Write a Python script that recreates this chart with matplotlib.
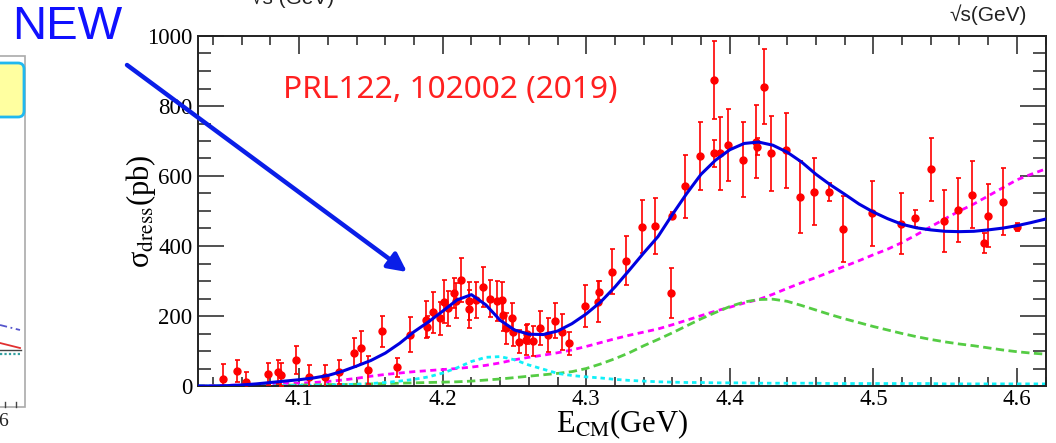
import numpy as np
import matplotlib.pyplot as plt
from matplotlib.patches import FancyBboxPatch, Rectangle
from matplotlib.ticker import MultipleLocator

plt.rcParams['mathtext.fontset'] = 'stix'
plt.rcParams['font.family'] = ['Liberation Serif', 'DejaVu Serif']

# measured cross section points: E_CM (GeV), sigma (pb), stat. error (pb)
e_cm = [4.047, 4.057, 4.063, 4.078, 4.085, 4.087, 4.098, 4.107, 4.118, 4.128,
        4.138, 4.143, 4.148, 4.158, 4.168, 4.177, 4.188, 4.189, 4.193, 4.198,
        4.201, 4.204, 4.208, 4.209, 4.213, 4.218, 4.218, 4.223, 4.228, 4.233,
        4.238, 4.241, 4.242, 4.244, 4.248, 4.249, 4.253, 4.258, 4.259, 4.263,
        4.268, 4.273, 4.278, 4.283, 4.288, 4.299, 4.308, 4.309, 4.318, 4.328,
        4.339, 4.348, 4.359, 4.360, 4.369, 4.379, 4.389, 4.389, 4.393, 4.399,
        4.409, 4.418, 4.419, 4.424, 4.429, 4.439, 4.449, 4.459, 4.469, 4.479,
        4.499, 4.519, 4.529, 4.540, 4.549, 4.559, 4.569, 4.577, 4.580, 4.590,
        4.600]
sigma = [19, 43, 11, 34, 40, 32, 74, 27, 27, 40,
         95, 110, 46, 156, 53, 147, 189, 170, 211, 193,
         241, 222, 267, 243, 303, 243, 220, 246, 284, 250,
         244, 247, 203, 165, 193, 155, 127, 131, 149, 129,
         165, 146, 187, 155, 122, 229, 241, 270, 327, 358,
         455, 457, 265, 486, 570, 658, 874, 665, 665, 689,
         646, 698, 684, 855, 665, 674, 541, 555, 555, 448,
         493, 463, 479, 619, 472, 503, 546, 408, 487, 527,
         455]
sigma_err = [44, 31, 28, 32, 35, 33, 40, 32, 33, 35,
             42, 48, 39, 45, 27, 51, 53, 30, 59, 46,
             61, 50, 43, 50, 62, 55, 55, 52, 57, 54,
             57, 51, 45, 45, 45, 40, 33, 43, 28, 43,
             48, 48, 50, 51, 33, 59, 59, 30, 64, 70,
             75, 79, 71, 10, 90, 97, 112, 38, 104, 103,
             107, 104, 25, 107, 107, 107, 103, 95, 26, 94,
             92, 87, 25, 90, 89, 92, 96, 29, 91, 95,
             11]

# fit curves sampled every 10 MeV from 4.03 to 4.62 GeV
curve_e = np.round(np.arange(4.03, 4.625, 0.01), 2)
fit_total = [0, 0, 1, 3, 6, 10, 14, 18, 23, 30,
             42, 57, 73, 94, 122, 155, 183, 214, 246, 261,
             232, 188, 160, 148, 147, 157, 178, 206, 240, 283,
             331, 380, 427, 490, 550, 605, 645, 675, 693, 697,
             688, 668, 640, 605, 575, 548, 520, 497, 478, 462,
             452, 446, 442, 441, 442, 446, 451, 458, 467, 477]
fit_bkg = [0, 1, 2, 3, 4, 5, 7, 8, 10, 13,
           17, 22, 28, 33, 37, 41, 44, 47, 50, 54,
           59, 66, 75, 82, 88, 95, 103, 113, 124, 135,
           145, 154, 163, 175, 188, 201, 214, 225, 237, 247,
           262, 279, 295, 310, 326, 342, 358, 375, 391, 410,
           432, 455, 478, 500, 520, 543, 566, 589, 605, 620]
fit_broad = [0, 0, 0, 1, 1, 1, 2, 3, 3, 4,
             4, 5, 6, 7, 8, 9, 10, 11, 12, 14,
             17, 20, 24, 28, 32, 36, 41, 50, 63, 78,
             95, 115, 133, 152, 172, 192, 210, 227, 240, 247,
             248, 242, 230, 217, 204, 192, 181, 170, 160, 150,
             141, 133, 126, 120, 115, 109, 103, 98, 94, 91]
fit_narrow = [0, 0, 0, 0, 1, 1, 1, 2, 2, 3,
              4, 5, 7, 10, 14, 19, 26, 37, 52, 70,
              82, 84, 75, 60, 48, 36, 30, 26, 23, 19,
              16, 14, 12, 11, 10, 10, 9, 9, 9, 8,
              8, 8, 8, 8, 7, 7, 7, 7, 7, 7,
              7, 7, 6, 6, 6, 6, 6, 6, 6, 6]

W, H = 1056, 443
fig = plt.figure(figsize=(W / 100, H / 100), dpi=100)
ax = fig.add_axes([198 / W, 1 - 386 / H, (1046 - 198) / W, (386 - 36) / H])

ax.plot(curve_e, fit_bkg, color='#ff00ff', lw=2.0, ls=(0, (2.2, 1.6)), zorder=2)
ax.plot(curve_e, fit_broad, color='#55cc44', lw=2.0, ls=(0, (3, 1.6)), zorder=2)
ax.plot(curve_e, fit_narrow, color='#10f0f8', lw=2.0, ls=(0, (1.6, 1.4)), zorder=2)
ax.errorbar(e_cm, sigma, yerr=sigma_err, fmt='o', color='#ff0000', ms=5,
            elinewidth=1.2, capsize=1.8, capthick=1.2, zorder=3)
ax.plot(curve_e, fit_total, color='#0000e0', lw=2.2, zorder=4)

ax.set_xlim(4.0295, 4.6203)
ax.set_ylim(0, 1000)
ax.xaxis.set_major_locator(MultipleLocator(0.1))
ax.xaxis.set_minor_locator(MultipleLocator(0.02))
ax.yaxis.set_major_locator(MultipleLocator(200))
ax.yaxis.set_minor_locator(MultipleLocator(50))
ax.tick_params(which='both', direction='in', top=True, right=True,
               color='#222222', width=1.1, labelsize=16.5)
ax.tick_params(axis='x', which='both', pad=2)
ax.tick_params(axis='y', which='both', pad=4)
ax.tick_params(axis='x', which='major', length=13)
ax.tick_params(axis='x', which='minor', length=6.5)
ax.tick_params(axis='y', which='major', length=19)
ax.tick_params(axis='y', which='minor', length=9.5)
for s in ax.spines.values():
    s.set_linewidth(1.4)
    s.set_color('#222222')

ax.set_xlabel(r'E$_{\rm CM}$(GeV)', fontsize=22, labelpad=-2)
ax.set_ylabel(r'σ$_{\rm dress}$(pb)', fontsize=22, labelpad=-8)

# overlay in pixel coordinates for the annotations around the plot
ov = fig.add_axes([0, 0, 1, 1], zorder=10)
ov.set_xlim(0, W)
ov.set_ylim(H, 0)
ov.axis('off')
ov.patch.set_alpha(0)

ov.text(450, 90, 'PRL122, 102002 (2019)', color='#ff2020', fontsize=22.8,
        family=['Noto Sans', 'DejaVu Sans'], ha='center', va='center')
ov.text(67, 27, 'NEW', color='#1010ff', fontsize=34,
        family=['Liberation Sans', 'DejaVu Sans'], ha='center', va='center')
ov.annotate('', xy=(407, 272), xytext=(127, 65),
            arrowprops=dict(arrowstyle='-|>', color='#0a1ee8', lw=3.2,
                            mutation_scale=28, shrinkA=0, shrinkB=0))
ov.text(988, 21, '\u221as(GeV)', color='#222222', fontsize=15,
        family=['Liberation Sans', 'DejaVu Sans'], ha='center', va='baseline')
ov.text(293, 4, '\u221as (GeV)', color='#222222', fontsize=15,
        family=['Liberation Sans', 'DejaVu Sans'], ha='center', va='baseline')

# neighbouring panel cut off on the left
ov.add_patch(Rectangle((-5, 56), 30, 351, fill=False, ec='#aaaaaa', lw=1.2))
ov.add_patch(FancyBboxPatch((-20, 63), 44, 54, boxstyle='round,pad=0,rounding_size=6',
                            fc='#ffffa0', ec='#20b8f0', lw=2))
ov.plot([0, 20], [325, 330], color='#5555cc', lw=1.3, ls=(0, (4, 2, 1, 2)))
ov.plot([0, 20], [343, 348], color='#e03030', lw=1.3)
ov.plot([0, 21], [350, 350], color='#444444', lw=1.0)
ov.plot([0, 20], [354, 354], color='#33a0a0', lw=1.6, ls=(0, (1, 1)))
for tx in [5, 16]:
    ov.plot([tx, tx], [407, 402], color='#444444', lw=1.0)
ov.text(3, 421, '6', fontsize=14, ha='center', va='center', color='#222222')

fig.savefig('out.png', dpi=100)
